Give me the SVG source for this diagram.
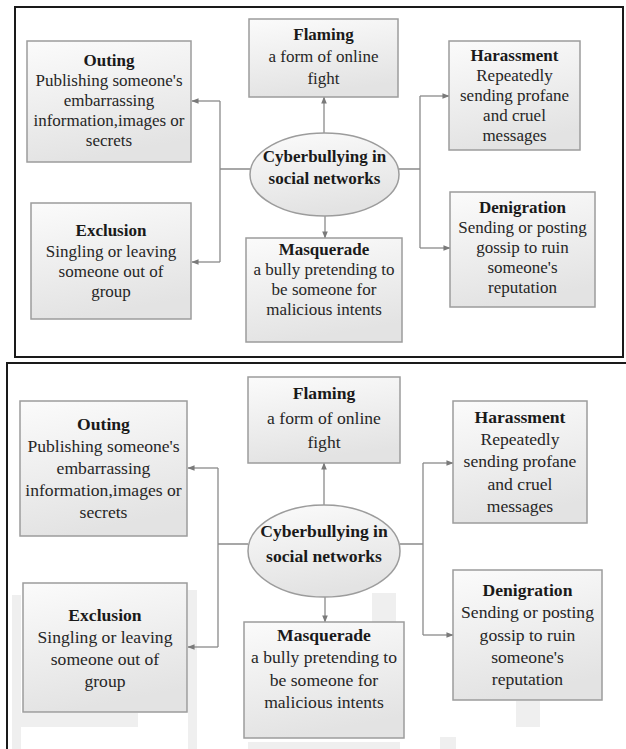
<svg xmlns="http://www.w3.org/2000/svg" width="626" height="749" viewBox="0 0 626 749">
  <defs>
    <linearGradient id="fill" x1="0" y1="0" x2="0.25" y2="1">
      <stop offset="0" stop-color="#fbfbfb"/>
      <stop offset="1" stop-color="#e3e3e3"/>
    </linearGradient>
    <marker id="arr" viewBox="0 0 8 8" refX="7.5" refY="4" markerWidth="7" markerHeight="7" markerUnits="userSpaceOnUse" orient="auto">
      <path d="M0,0.8 L8,4 L0,7.2 Z" fill="#7a7a7a"/>
    </marker>
    <style>
      .box { fill: url(#fill); stroke: #9c9c9c; stroke-width: 1.5; }
      .ell { fill: url(#fill); stroke: #9c9c9c; stroke-width: 1.5; }
      .frame { fill: none; stroke: #1a1a1a; stroke-width: 2; }
      .con { fill: none; stroke: #8a8a8a; stroke-width: 1.3; }
      .arrow { marker-end: url(#arr); }
      text { font-family: "Liberation Serif", "Times New Roman", serif; fill: #262626; text-anchor: middle; }
      .b { font-weight: bold; fill: #1a1a1a; }
      .d1 text { font-size: 17px; }
      .d2 text { font-size: 17.6px; }
      .smudge { fill: #efefef; }
    </style>
  </defs>
  <rect x="0" y="0" width="626" height="749" fill="#ffffff"/>

  <!-- ================= TOP DIAGRAM ================= -->
  <g id="diagram-top" class="d1" font-family="Liberation Serif, serif">
    <rect class="frame" x="15" y="7" width="608" height="350"/>
    <g id="connectors-top">
      <path class="con" d="M250,169 H220 M220,101 V262 M399,169 H420 M420,96 V248"/>
      <path class="con arrow" d="M220,101 H192"/>
      <path class="con arrow" d="M220,262 H192"/>
      <path class="con arrow" d="M420,96 H449"/>
      <path class="con arrow" d="M420,248 H450"/>
      <path class="con arrow" d="M324,133 V97"/>
      <path class="con arrow" d="M325,216 V238"/>
    </g>
    <g id="flaming-top">
      <rect class="box" x="249" y="19" width="149" height="78"/>
      <text x="323.5" y="40" class="b">Flaming</text>
      <text x="323.5" y="62">a form of online</text>
      <text x="323.5" y="84">fight</text>
    </g>
    <g id="outing-top">
      <rect class="box" x="27" y="41" width="164" height="121"/>
      <text x="109" y="66" class="b">Outing</text>
      <text x="109" y="86">Publishing someone's</text>
      <text x="109" y="106">embarrassing</text>
      <text x="109" y="126">information,images or</text>
      <text x="109" y="146">secrets</text>
    </g>
    <g id="harassment-top">
      <rect class="box" x="449" y="41" width="131" height="109"/>
      <text x="514.5" y="61" class="b">Harassment</text>
      <text x="514.5" y="81">Repeatedly</text>
      <text x="514.5" y="101">sending profane</text>
      <text x="514.5" y="121">and cruel</text>
      <text x="514.5" y="141">messages</text>
    </g>
    <g id="center-top">
      <ellipse class="ell" cx="324.5" cy="174.5" rx="74.5" ry="41.5"/>
      <text x="324.5" y="162" class="b">Cyberbullying in</text>
      <text x="324.5" y="184" class="b">social networks</text>
    </g>
    <g id="exclusion-top">
      <rect class="box" x="31" y="203" width="160" height="116"/>
      <text x="111" y="236" class="b">Exclusion</text>
      <text x="111" y="257">Singling or leaving</text>
      <text x="111" y="277">someone out of</text>
      <text x="111" y="297">group</text>
    </g>
    <g id="masquerade-top">
      <rect class="box" x="246" y="238" width="156" height="104"/>
      <text x="324" y="255" class="b">Masquerade</text>
      <text x="324" y="275">a bully pretending to</text>
      <text x="324" y="295">be someone for</text>
      <text x="324" y="315">malicious intents</text>
    </g>
    <g id="denigration-top">
      <rect class="box" x="450" y="192" width="145" height="115"/>
      <text x="522.5" y="213" class="b">Denigration</text>
      <text x="522.5" y="233">Sending or posting</text>
      <text x="522.5" y="253">gossip to ruin</text>
      <text x="522.5" y="273">someone's</text>
      <text x="522.5" y="293">reputation</text>
    </g>
  </g>

  <!-- ================= BOTTOM DIAGRAM ================= -->
  <g id="diagram-bottom" class="d2" font-family="Liberation Serif, serif">
    <g id="smudges">
      <rect class="smudge" x="12" y="595" width="9" height="154"/>
      <rect class="smudge" x="18" y="713" width="120" height="14"/>
      <rect class="smudge" x="188" y="590" width="9" height="159"/>
      <rect class="smudge" x="372" y="593" width="24" height="29"/>
      <rect class="smudge" x="248" y="742" width="152" height="7"/>
      <rect class="smudge" x="516" y="701" width="24" height="26"/>
      <rect class="smudge" x="440" y="737" width="16" height="12"/>
    </g>
    <path class="frame" d="M7,749 V363 H626"/>
    <g id="connectors-bottom">
      <path class="con" d="M248,544 H218 M218,468 V647 M400,544 H423 M423,463 V635"/>
      <path class="con arrow" d="M218,468 H188"/>
      <path class="con arrow" d="M218,647 H188"/>
      <path class="con arrow" d="M423,463 H453"/>
      <path class="con arrow" d="M423,635 H453"/>
      <path class="con arrow" d="M324,505 V463"/>
      <path class="con arrow" d="M325,597 V622"/>
    </g>
    <g id="flaming-bottom">
      <rect class="box" x="248" y="377" width="152" height="86"/>
      <text x="324" y="399" class="b">Flaming</text>
      <text x="324" y="424">a form of online</text>
      <text x="324" y="448">fight</text>
    </g>
    <g id="outing-bottom">
      <rect class="box" x="20" y="401" width="167" height="135"/>
      <text x="103.5" y="430" class="b">Outing</text>
      <text x="103.5" y="452">Publishing someone's</text>
      <text x="103.5" y="474">embarrassing</text>
      <text x="103.5" y="496">information,images or</text>
      <text x="103.5" y="518">secrets</text>
    </g>
    <g id="harassment-bottom">
      <rect class="box" x="453" y="401" width="134" height="122"/>
      <text x="520" y="423" class="b">Harassment</text>
      <text x="520" y="445">Repeatedly</text>
      <text x="520" y="467">sending profane</text>
      <text x="520" y="490">and cruel</text>
      <text x="520" y="512">messages</text>
    </g>
    <g id="center-bottom">
      <ellipse class="ell" cx="324" cy="551" rx="76" ry="46"/>
      <text x="324" y="537" class="b">Cyberbullying in</text>
      <text x="324" y="562" class="b">social networks</text>
    </g>
    <g id="exclusion-bottom">
      <rect class="box" x="23" y="583" width="164" height="129"/>
      <text x="105" y="621" class="b">Exclusion</text>
      <text x="105" y="643">Singling or leaving</text>
      <text x="105" y="665">someone out of</text>
      <text x="105" y="687">group</text>
    </g>
    <g id="masquerade-bottom">
      <rect class="box" x="244" y="622" width="160" height="116"/>
      <text x="324" y="641" class="b">Masquerade</text>
      <text x="324" y="663">a bully pretending to</text>
      <text x="324" y="686">be someone for</text>
      <text x="324" y="708">malicious intents</text>
    </g>
    <g id="denigration-bottom">
      <rect class="box" x="453" y="570" width="149" height="130"/>
      <text x="527.5" y="596" class="b">Denigration</text>
      <text x="527.5" y="618">Sending or posting</text>
      <text x="527.5" y="641">gossip to ruin</text>
      <text x="527.5" y="663">someone's</text>
      <text x="527.5" y="685">reputation</text>
    </g>
  </g>
</svg>
